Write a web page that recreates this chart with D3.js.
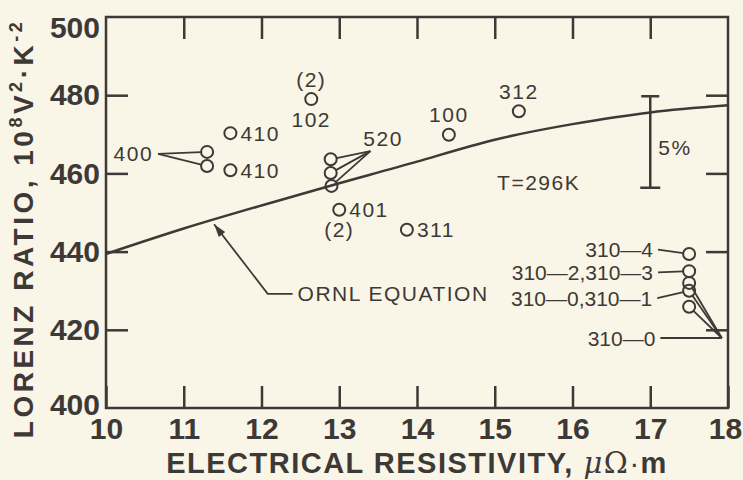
<!DOCTYPE html>
<html lang="en">
<head>
<meta charset="utf-8">
<title>Lorenz ratio vs electrical resistivity</title>
<style>
  html, body { margin: 0; padding: 0; background: #f9f5e7; }
  svg { display: block; }
  text { fill: #3d3936; font-family: "Liberation Sans", Arial, Helvetica, sans-serif; }
  .tick text { font-size: 30px; font-weight: bold; }
  .tag { font-size: 21px; letter-spacing: 1.5px; }
  .tag.tight { letter-spacing: 0; }
</style>
</head>
<body>
<div id="chart"></div>
<script src="https://cdn.jsdelivr.net/npm/d3@7"></script>
<script>
// measured points (resistivity in µΩ·m, Lorenz ratio in 1e-8 V²/K²)
const resistivity = [11.3, 11.3, 11.6, 11.6, 12.64, 12.89, 12.89, 12.9, 13.0, 13.87, 14.41, 15.31, 17.5, 17.5, 17.5, 17.5, 17.5];
const lorenz      = [465.5, 461.9, 470.3, 460.8, 479.0, 463.6, 460.1, 456.8, 450.7, 445.6, 469.9, 475.9, 439.4, 435.0, 432.0, 430.0, 425.9];

// ORNL equation curve
const ornlRho = [10, 11, 12, 13, 14, 15, 16, 17, 18];
const ornlL   = [439.4, 445.9, 451.8, 457.5, 463.0, 468.6, 472.6, 475.6, 477.4];

const xTicks = [10, 11, 12, 13, 14, 15, 16, 17, 18];
const yTicks = [400, 420, 440, 460, 480, 500];

// 5% bar
const barRho = 17, barCenter = 468, barPercent = 5;

// labels next to a single point: [point index, text, side]
const pointTags = [
  [2, "410", "right"], [3, "410", "right"],
  [4, "102", "below"], [4, "(2)", "above"],
  [8, "401", "right"], [8, "(2)", "below"],
  [9, "311", "right"],
  [10, "100", "above"], [11, "312", "above"]
];

// labels with leader lines: anchor in data units, target point indexes
const callouts = [
  {text: "400", at: [10.67, 465.0], to: [0, 1], side: "left"},
  {text: "520", at: [13.40, 465.7], to: [5, 6, 7], side: "top"},
  {text: "310\u20144", at: [17.10, 440.5], to: [12], side: "left", tight: true},
  {text: "310\u20142,310\u20143", at: [17.10, 434.7], to: [13], side: "left", tight: true},
  {text: "310\u20140,310\u20141", at: [17.09, 428.1], to: [15], side: "left", tight: true},
  {text: "310\u20140", at: [17.13, 417.9], via: [17.92, 417.9], to: [14, 15, 16], side: "left", tight: true}
];

const ornlTag = {tip: [11.39, 447.0], elbow: [12.08, 429.2], end: [12.40, 429.2]};

const width = 743, height = 480;
const margin = {top: 17, right: 15, bottom: 72, left: 106};
const ink = "#3d3936";

const x = d3.scaleLinear().domain([10, 18]).range([margin.left, width - margin.right]);
const y = d3.scaleLinear().domain([400, 500]).range([height - margin.bottom, margin.top]);

const svg = d3.select("#chart").append("svg")
    .attr("width", width)
    .attr("height", height)
    .attr("viewBox", [0, 0, width, height]);

svg.append("rect").attr("width", width).attr("height", height).attr("fill", "#f9f5e7");

// axes: ticks point inward, labels outside
const tickLen = 22;
const styleAxis = g => {
  g.select(".domain").remove();
  g.selectAll(".tick line").attr("stroke", ink).attr("stroke-width", 2.5);
};

svg.append("g")
    .attr("transform", `translate(0,${y(400)})`)
    .call(d3.axisBottom(x).tickValues(xTicks).tickSize(-tickLen).tickPadding(10).tickFormat(d3.format("d")))
    .call(styleAxis)
    .call(g => g.selectAll(".tick text").attr("font-size", 28).attr("dx", d => d === 18 ? -3 : 0));

svg.append("g")
    .attr("transform", `translate(0,${y(500)})`)
    .call(d3.axisTop(x).tickValues(xTicks.slice(1, -1)).tickSize(-tickLen).tickFormat(""))
    .call(styleAxis);

svg.append("g")
    .attr("transform", `translate(${x(10)},0)`)
    .call(d3.axisLeft(y).tickValues(yTicks).tickSize(-tickLen).tickPadding(6).tickFormat(d3.format("d")))
    .call(styleAxis)
    .call(g => g.selectAll(".tick text").attr("dy", d => d === 500 ? "0.68em" : d === 400 ? "0.22em" : "0.32em"))
    .call(g => g.selectAll(".tick line").filter(d => d === 400 || d === 500).remove());

svg.append("g")
    .attr("transform", `translate(${x(18)},0)`)
    .call(d3.axisRight(y).tickValues(yTicks.slice(1, -1)).tickSize(-tickLen).tickFormat(""))
    .call(styleAxis);

// frame
svg.append("rect")
    .attr("x", x(10)).attr("y", y(500))
    .attr("width", x(18) - x(10)).attr("height", y(400) - y(500))
    .attr("fill", "none").attr("stroke", ink).attr("stroke-width", 2.5);

// axis titles
svg.append("text")
    .attr("x", (x(10) + x(18)) / 2)
    .attr("y", 473)
    .attr("text-anchor", "middle")
    .attr("font-size", 29).attr("font-weight", "bold").attr("letter-spacing", 1.5)
    .call(t => {
      t.append("tspan").text("ELECTRICAL RESISTIVITY, ");
      t.append("tspan").attr("font-family", "DejaVu Serif").attr("font-style", "italic").attr("font-weight", "normal").text("\u03bc");
      t.append("tspan").attr("font-family", "DejaVu Serif").attr("font-weight", "normal").text("\u03a9");
      t.append("tspan").attr("font-weight", "normal").text("\u00b7");
      t.append("tspan").text("m");
    });

svg.append("text")
    .attr("transform", `translate(33,${(y(400) + y(500)) / 2 + 16}) rotate(-90)`)
    .attr("text-anchor", "middle")
    .attr("font-size", 28).attr("font-weight", "bold").attr("letter-spacing", 3.5)
    .call(t => {
      t.append("tspan").text("LORENZ RATIO, 10");
      t.append("tspan").attr("font-size", 18).attr("dy", -11).text("8");
      t.append("tspan").attr("dy", 11).text("V");
      t.append("tspan").attr("font-size", 18).attr("dy", -11).text("2");
      t.append("tspan").attr("dy", 11).text("\u00b7K");
      t.append("tspan").attr("font-size", 18).attr("dy", -11).text("-2");
    });

// ORNL equation curve
const line = d3.line().x(d => x(d[0])).y(d => y(d[1])).curve(d3.curveNatural);
svg.append("path")
    .datum(d3.zip(ornlRho, ornlL))
    .attr("d", line)
    .attr("fill", "none").attr("stroke", ink).attr("stroke-width", 2.5);

// ORNL label with arrow
{
  const [tx, ty] = [x(ornlTag.tip[0]), y(ornlTag.tip[1])];
  const [ex, ey] = [x(ornlTag.elbow[0]), y(ornlTag.elbow[1])];
  const [fx, fy] = [x(ornlTag.end[0]), y(ornlTag.end[1])];
  svg.append("path")
      .attr("d", `M${fx},${fy}L${ex},${ey}L${tx},${ty}`)
      .attr("fill", "none").attr("stroke", ink).attr("stroke-width", 1.8);
  const len = Math.hypot(ex - tx, ey - ty), ux = (ex - tx) / len, uy = (ey - ty) / len;
  const hl = 13, hw = 4;
  svg.append("path")
      .attr("d", `M${tx},${ty}L${tx + ux * hl - uy * hw},${ty + uy * hl + ux * hw}L${tx + ux * hl + uy * hw},${ty + uy * hl - ux * hw}Z`)
      .attr("fill", ink);
  svg.append("text").attr("class", "tag")
      .attr("x", fx + 5).attr("y", fy)
      .attr("dominant-baseline", "central")
      .text("ORNL EQUATION");
}

// 5% bar
{
  const half = barCenter * barPercent / 200;
  const bx = x(barRho), b0 = y(barCenter - half), b1 = y(barCenter + half);
  svg.append("path")
      .attr("d", `M${bx},${b0}V${b1}M${bx - 10},${b0}H${bx + 10}M${bx - 9},${b1}H${bx + 9}`)
      .attr("fill", "none").attr("stroke", ink).attr("stroke-width", 2.5);
  svg.append("text").attr("class", "tag")
      .attr("x", bx + 8).attr("y", y(barCenter) + 5)
      .attr("dominant-baseline", "central")
      .text(barPercent + "%");
}

svg.append("text").attr("class", "tag")
    .attr("x", x(15.03)).attr("y", y(457.8))
    .attr("dominant-baseline", "central")
    .text("T=296K");

// points
const r = 6;
svg.append("g")
  .selectAll("circle")
  .data(d3.zip(resistivity, lorenz))
  .join("circle")
    .attr("cx", d => x(d[0]))
    .attr("cy", d => y(d[1]))
    .attr("r", r)
    .attr("fill", "none").attr("stroke", ink).attr("stroke-width", 2);

// simple point labels
svg.append("g")
  .selectAll("text")
  .data(pointTags)
  .join("text")
    .attr("class", "tag")
    .attr("x", ([i, , side]) => x(resistivity[i]) + (side === "right" ? 10 : 0))
    .attr("y", ([i, , side]) => y(lorenz[i]) + (side === "above" ? -20 : side === "below" ? 20 : 0))
    .attr("text-anchor", ([, , side]) => side === "right" ? "start" : "middle")
    .attr("dominant-baseline", "central")
    .text(d => d[1]);

// callouts with leader lines
for (const c of callouts) {
  const ax = x(c.at[0]), ay = y(c.at[1]);
  let px = ax, py = ay;
  if (c.via) {
    px = x(c.via[0]); py = y(c.via[1]);
    svg.append("line").attr("x1", ax).attr("y1", ay).attr("x2", px).attr("y2", py)
        .attr("stroke", ink).attr("stroke-width", 1.8);
  }
  for (const i of c.to) {
    const cx = x(resistivity[i]), cy = y(lorenz[i]);
    const d = Math.hypot(px - cx, py - cy);
    svg.append("line")
        .attr("x1", px).attr("y1", py)
        .attr("x2", cx + (px - cx) / d * r).attr("y2", cy + (py - cy) / d * r)
        .attr("stroke", ink).attr("stroke-width", 1.8);
  }
  const t = svg.append("text").attr("class", c.tight ? "tag tight" : "tag").text(c.text);
  if (c.side === "left") {
    t.attr("x", ax - 5).attr("y", ay).attr("text-anchor", "end").attr("dominant-baseline", "central");
  } else {
    t.attr("x", ax - 7).attr("y", ay - 13).attr("text-anchor", "start").attr("dominant-baseline", "central");
  }
}
</script>
</body>
</html>
